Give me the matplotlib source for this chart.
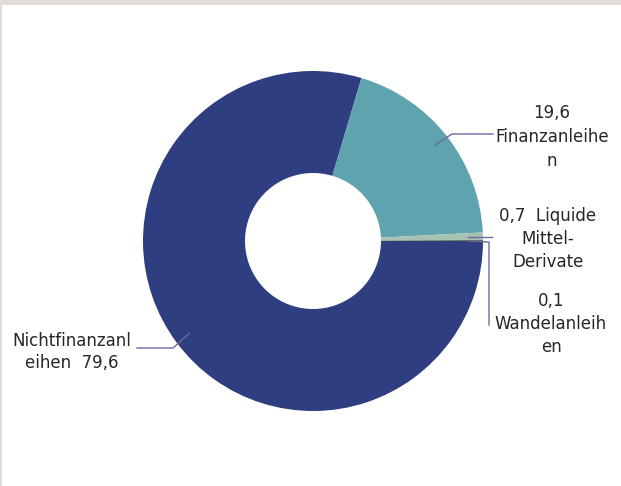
import matplotlib.pyplot as plt
import numpy as np

# shares in percent
labels = ["Nichtfinanzanleihen", "Finanzanleihen", "Liquide Mittel-Derivate", "Wandelanleihen"]
values = [79.6, 19.6, 0.7, 0.1]
label_texts = ["Nichtfinanzanl\neihen  79,6", "19,6\nFinanzanleihe\nn",
               "0,7  Liquide\nMittel-\nDerivate", "0,1\nWandelanleih\nen"]
colors = ["#2E3E80", "#5FA3AE", "#A7C2B3", "#5E6E5E"]

plt.rcParams['font.family'] = ['DejaVu Sans']

fig = plt.figure(figsize=(6.21, 4.86), dpi=100)
fig.patch.set_facecolor("#E2DDD9")
# white panel, leaving the grey strip on top and left
bg = fig.add_axes([2/621, 0, 619/621, 481/486])
bg.set_facecolor("white")
bg.set_xticks([]); bg.set_yticks([])
for s in bg.spines.values():
    s.set_visible(False)

ax = fig.add_axes([0, 0, 1, 1])
ax.set_facecolor("none")
cx, cy, R = 313, 486 - 241, 170
wedges, _ = ax.pie(values, colors=colors, startangle=0, counterclock=False,
                   center=(cx, cy), radius=R,
                   wedgeprops=dict(width=R * 0.6, linewidth=0))
ax.set_xlim(0, 621)
ax.set_ylim(0, 486)
ax.set_aspect('equal')
ax.axis('off')

lc = "#6C6A9E"
tc = "#262626"
fs = 12


def anchor(w, r=0.91):
    a = np.deg2rad((w.theta1 + w.theta2) / 2)
    return cx + r * R * np.cos(a), cy + r * R * np.sin(a)


def Y(y):
    return 486 - y


# Nichtfinanzanleihen
x0, y0 = anchor(wedges[0])
ax.plot([x0, 173, 137], [y0, Y(348), Y(348)], color=lc, lw=1)
ax.text(72, Y(352), label_texts[0], ha="center", va="center", fontsize=fs,
        color=tc, linespacing=1.25)

# Finanzanleihen
x0, y0 = anchor(wedges[1])
ax.plot([x0, 452, 493], [y0, Y(134), Y(134)], color=lc, lw=1)
ax.text(552, Y(137), label_texts[1], ha="center", va="center", fontsize=fs,
        color=tc, linespacing=1.4)

# Liquide Mittel-Derivate
x0, y0 = anchor(wedges[2])
ax.plot([x0, 492], [y0, y0], color=lc, lw=1)
ax.text(548, Y(239), label_texts[2], ha="center", va="center", fontsize=fs,
        color=tc, linespacing=1.35)

# Wandelanleihen
x0, y0 = anchor(wedges[3])
ax.plot([x0, 489, 489], [Y(241), Y(242), Y(325)], color=lc, lw=1)
ax.text(551, Y(324), label_texts[3], ha="center", va="center", fontsize=fs,
        color=tc, linespacing=1.35)

fig.savefig("out.png", dpi=100)
